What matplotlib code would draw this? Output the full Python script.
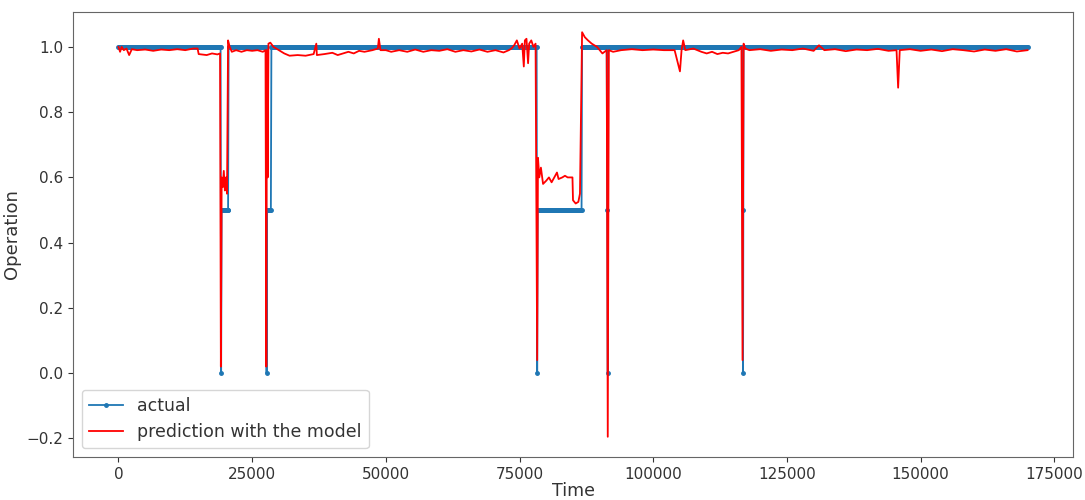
import numpy as np
import matplotlib
matplotlib.use('Agg')
import matplotlib.pyplot as plt

# actual operation state: runs of constant level (start/end time, inclusive)
act_level = [1.0, 0.0, 0.5, 1.0, 0.0, 0.5, 1.0, 0.0, 0.5, 1.0, 0.5, 0.0, 1.0, 0.5, 0.0, 1.0]
act_start = [0, 19200, 19300, 20600, 27700, 27800, 28600, 78300, 78400, 86700,
             91400, 91500, 91600, 116700, 116800, 116900]
act_end = [19100, 19200, 20500, 27600, 27700, 28500, 78200, 78300, 86600, 91300,
           91400, 91500, 116600, 116700, 116800, 170000]
act_step = 100   # sampling interval of the time index

# model prediction
pred_t = [0, 300, 600, 1000, 1500, 2000, 2500, 3500, 5000, 6500, 8000, 9500, 11000,
          12500, 14000, 14800, 15000, 16500, 17500, 18500, 19000,
          19150, 19300, 19500, 19700, 19900, 20100, 20300, 20500, 20800, 21200,
          22000, 23000, 24000, 25000, 26000, 27000, 27500,
          27650, 27750, 27900, 28050, 28400, 29000, 30000, 31000, 32000, 33500, 35000,
          36500, 37000, 37100, 38500, 40000, 41000, 42000, 43000, 44000, 45000, 46000,
          47500, 48500, 48700, 49000, 50000, 51000, 52500, 54000, 55500, 57000, 58500,
          60000, 61500, 63000, 64500, 66000, 67500, 69000, 70500, 72000, 73000, 73500,
          74000, 74500, 75000, 75500, 75800, 76000, 76300, 76600, 76800, 77200, 77600, 78000,
          78300, 78450, 78700, 79000, 79400, 80000, 80500, 81000, 81500, 82000, 82300,
          83000, 83500, 84000, 84500, 84900, 85000, 85500, 86000, 86300,
          86700, 87200, 87800, 88500, 89500, 90500, 91300, 91500, 91700,
          92500, 94000, 96000, 98000, 100000, 102000, 104000, 105000, 105300, 105600,
          106000, 107500, 109000, 110000, 111000, 112000, 113000, 114000, 115000, 116000,
          116500, 116700, 116900, 117200, 118000, 120000, 122000, 124000, 126000, 128000,
          130000, 131000, 132000, 134000, 136000, 138000, 140000, 142000, 144000, 145500,
          145800, 146100, 148000, 150000, 152000, 154000, 156000, 158000, 160000, 162000,
          164000, 166000, 168000, 170000]
pred_y = [1.0, 0.985, 1.0, 0.99, 0.995, 0.975, 0.993, 0.99, 0.992, 0.988, 0.992, 0.99, 0.993,
          0.99, 0.995, 0.995, 0.978, 0.975, 0.98, 0.977, 0.98,
          0.02, 0.6, 0.57, 0.62, 0.56, 0.6, 0.55, 1.02, 1.0, 0.985,
          0.99, 0.985, 0.99, 0.988, 0.99, 0.985, 0.99,
          0.02, 0.99, 0.6, 1.01, 1.013, 1.0, 0.99, 0.98, 0.973, 0.975, 0.973,
          0.978, 1.01, 0.975, 0.978, 0.982, 0.975, 0.98, 0.985, 0.98, 0.988, 0.985,
          0.99, 0.995, 1.025, 0.99, 0.99, 0.985, 0.99, 0.985, 0.992, 0.985, 0.99,
          0.988, 0.993, 0.985, 0.99, 0.986, 0.992, 0.985, 0.99, 0.983, 0.99, 0.995,
          1.005, 1.02, 0.995, 1.01, 0.94, 1.02, 1.025, 0.95, 1.01, 1.02, 1.0, 1.01,
          0.04, 0.66, 0.6, 0.63, 0.58, 0.59, 0.6, 0.585, 0.6, 0.615, 0.595,
          0.6, 0.605, 0.6, 0.6, 0.6, 0.53, 0.52, 0.525, 0.55,
          1.045, 1.03, 1.02, 1.01, 1.0, 0.98, 0.99, -0.195, 0.99,
          0.985, 0.99, 0.993, 0.99, 0.992, 0.99, 0.99, 0.925, 0.99, 1.02,
          0.99, 0.995, 0.985, 0.98, 0.985, 0.978, 0.982, 0.98, 0.985, 0.99,
          1.0, 0.04, 1.01, 0.995, 0.99, 0.993, 0.988, 0.992, 0.99, 0.995,
          0.988, 1.005, 0.99, 0.993, 0.987, 0.992, 0.99, 0.994, 0.988, 0.99,
          0.875, 0.99, 0.993, 0.988, 0.992, 0.987, 0.993, 0.99, 0.986, 0.992,
          0.988, 0.993, 0.986, 0.99]

# build the step series of the actual state
t_act = []
y_act = []
for lev, s, e in zip(act_level, act_start, act_end):
    seg = np.arange(s, e + 1, act_step)
    t_act.append(seg)
    y_act.append(np.full(len(seg), lev))
t_act = np.concatenate(t_act)
y_act = np.concatenate(y_act)

plt.rcParams['text.color'] = '#333333'
plt.rcParams['axes.labelcolor'] = '#333333'
plt.rcParams['xtick.color'] = '#333333'
plt.rcParams['ytick.color'] = '#333333'

fig = plt.figure(figsize=(10.85, 5.0), dpi=100)
ax = fig.add_axes([73 / 1085, 43 / 500, 1000 / 1085, 445 / 500])

ax.plot(t_act, y_act, '.-', color='C0', markersize=5, linewidth=1.3, label='actual')
ax.plot(pred_t, pred_y, 'r', linewidth=1.3, label='prediction with the model')

ax.set_xticks([0, 25000, 50000, 75000, 100000, 125000, 150000, 175000])
ax.set_yticks([-0.2, 0.0, 0.2, 0.4, 0.6, 0.8, 1.0])
ax.tick_params(labelsize=11)
for sp in ax.spines.values():
    sp.set_color('#666666')

ax.set_xlabel('Time', fontsize=12.5, labelpad=0)
ax.set_ylabel('Operation', fontsize=13)
ax.legend(loc='lower left', fontsize=12.5)

fig.savefig('out.png', dpi=100)
